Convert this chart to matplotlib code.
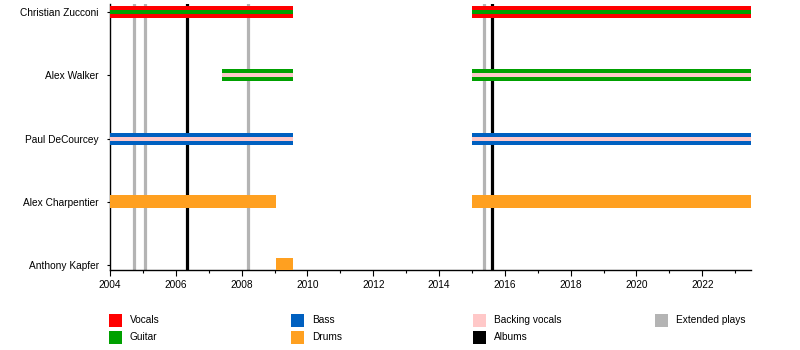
import matplotlib
matplotlib.use("Agg")
import matplotlib.pyplot as plt
from matplotlib.patches import Rectangle
from matplotlib.ticker import MultipleLocator

plt.rcParams['font.family'] = ['Liberation Sans', 'DejaVu Sans']

members = ["Christian Zucconi", "Alex Walker", "Paul DeCourcey", "Alex Charpentier", "Anthony Kapfer"]

# spans: (member index, start, end, main role, inner role)
span_member = [0, 0, 1, 1, 2, 2, 3, 3, 4]
span_start = [2004.0, 2015.0, 2007.4, 2015.0, 2004.0, 2015.0, 2004.0, 2015.0, 2009.05]
span_end = [2009.55, 2023.48, 2009.55, 2023.48, 2009.55, 2023.48, 2009.05, 2023.48, 2009.55]
span_role = ["Vocals", "Vocals", "Guitar", "Guitar", "Bass", "Bass", "Drums", "Drums", "Drums"]
span_inner = ["Guitar", "Guitar", "Backing vocals", "Backing vocals", "Backing vocals", "Backing vocals", None, None, None]

albums = [2006.35, 2015.6]
eps = [2004.73, 2005.07, 2008.2, 2015.37]

role_names = ["Vocals", "Guitar", "Bass", "Drums", "Backing vocals", "Albums", "Extended plays"]
role_colors = ["#ff0000", "#00a000", "#0060c0", "#ffa020", "#ffc8c8", "#000000", "#b4b4b4"]
color = dict(zip(role_names, role_colors))

x_start, x_end = 2004.0, 2023.48
FS = 7.3

fig = plt.figure(figsize=(8, 3.5), dpi=100)
ax = fig.add_axes([110/800, 1 - 270/350, (751 - 110)/800, (270 - 4)/350])

for x in eps:
    ax.axvline(x, ymax=0.996, color=color["Extended plays"], lw=2.3, zorder=1)
for x in albums:
    ax.axvline(x, ymax=0.996, color=color["Albums"], lw=2.3, zorder=1)

for m, s, e, r, inner in zip(span_member, span_start, span_end, span_role, span_inner):
    h = 0.21 if r == "Drums" else 0.19
    ax.barh(m, e - s, left=s, height=h, color=color[r], zorder=3, linewidth=0)
    if inner:
        ax.barh(m, e - s, left=s, height=0.065, color=color[inner], zorder=4, linewidth=0)

ax.set_xlim(x_start, x_end)
ax.set_ylim(4.08, -0.13)
ax.set_yticks(range(len(members)))
ax.set_yticklabels(members, fontsize=FS)
ax.xaxis.set_major_locator(MultipleLocator(2))
ax.xaxis.set_minor_locator(MultipleLocator(1))
ax.xaxis.set_major_formatter(matplotlib.ticker.FuncFormatter(lambda v, p: f"{int(v)}"))
ax.tick_params(axis='x', labelsize=FS, length=4, width=0.8)
ax.tick_params(axis='x', which='minor', length=2.5, width=0.8)
ax.tick_params(axis='y', length=2, width=0.8, pad=6)
for side in ["top", "right"]:
    ax.spines[side].set_visible(False)
for side in ["left", "bottom"]:
    ax.spines[side].set_linewidth(1.0)

# legend
legend_order = ["Vocals", "Guitar", "Bass", "Drums", "Backing vocals", "Albums", "Extended plays"]
col_x = [109, 291, 473, 655]
row_y = [320, 337]
for i, name in enumerate(legend_order):
    c, r = divmod(i, 2)
    px, py = col_x[c], row_y[r]
    fig.add_artist(Rectangle((px/800, 1 - (py + 6.5)/350), 13/800, 13/350,
                             transform=fig.transFigure, color=color[name], lw=0))
    fig.text((px + 21)/800, 1 - py/350, name, fontsize=FS, va='center', ha='left')

fig.savefig("out.png", dpi=100)
